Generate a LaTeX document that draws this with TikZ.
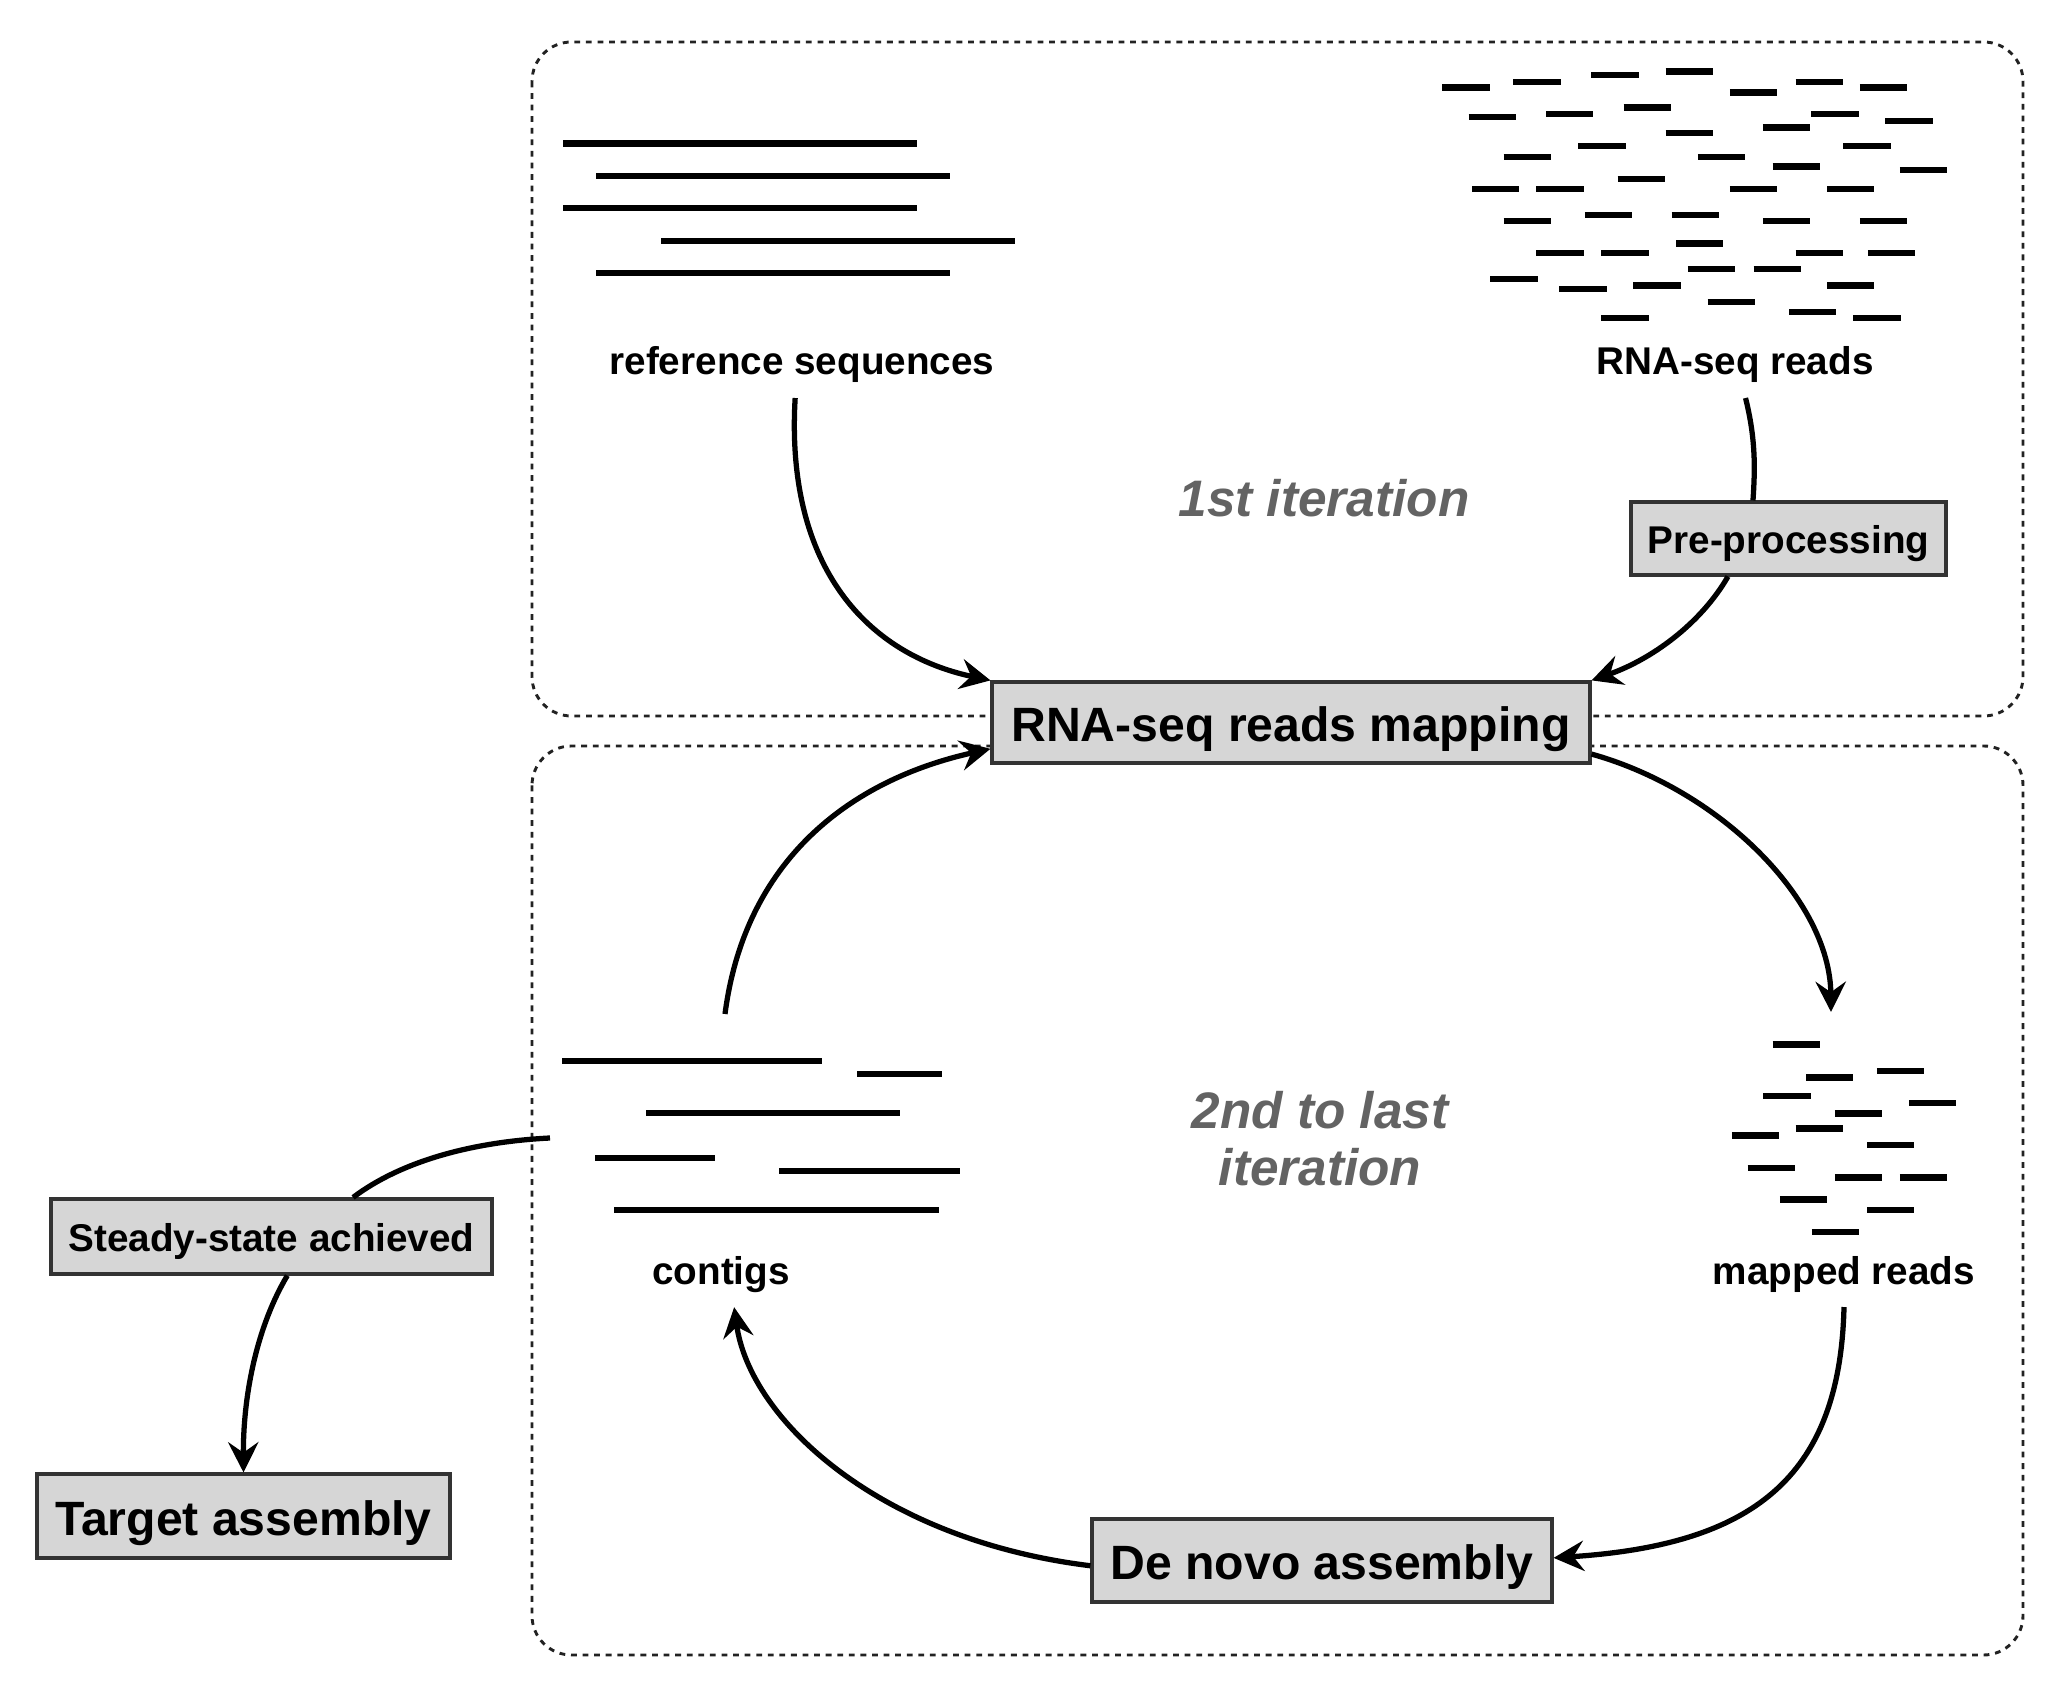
\documentclass[tikz,border=0pt]{standalone}
\usepackage{fontspec}
\setmainfont{Liberation Sans}
\usetikzlibrary{arrows.meta}
\definecolor{boxfill}{HTML}{D6D6D6}
\definecolor{boxline}{HTML}{333333}
\definecolor{itergray}{HTML}{636363}
\definecolor{dotline}{HTML}{222222}
\begin{document}
\begin{tikzpicture}[x=0.38pt,y=-0.38pt,
  frame/.style={draw=dotline, line width=1.1pt, dash pattern=on 2.2pt off 2.2pt, rounded corners=15pt},
  seqline/.style={line width=2.4pt, black},
  conn/.style={line width=2pt, black},
  arr/.style={conn, -{Stealth[length=11.5pt,width=11.5pt,inset=4pt]}},
  lbl/.style={font=\fontsize{14.7}{17}\selectfont\bfseries, anchor=base, inner sep=5.5pt},
  bigbox/.style={draw=boxline, fill=boxfill, line width=1.2pt, inner sep=0pt, font=\fontsize{18.3}{21}\selectfont\bfseries, text height=16.5pt, text depth=1.8pt},
  smallbox/.style={draw=boxline, fill=boxfill, line width=1.2pt, inner sep=0pt, font=\fontsize{14.7}{17}\selectfont\bfseries, text height=13.2pt, text depth=1.5pt},
  iter/.style={text=itergray, font=\fontsize{19.5}{21.7}\selectfont\bfseries\itshape, align=center, inner sep=0pt}
]
\useasboundingbox (0,0) rectangle (2058,1686);
\fill[white] (0,0) rectangle (2058,1686);

% iteration frames
\draw[frame] (532,42) rectangle (2023,716);
\draw[frame] (532,746) rectangle (2023,1655);

% reference sequences
\draw[seqline] (563,143.5) -- (917,143.5);
\draw[seqline] (596,176) -- (950,176);
\draw[seqline] (563,208) -- (917,208);
\draw[seqline] (661,241) -- (1015,241);
\draw[seqline] (596,273) -- (950,273);

% RNA-seq reads (short)
\begin{scope}[shift={(1029,0)}, xscale=0.6563, yscale=0.5376]
\foreach \a/\b in {630/163, 738/152, 857/140, 970/133, 1068/172, 1168/152, 1266/163,
  670/218, 788/212, 906/200, 970/248, 1118/237, 1192/212, 1305/225,
  723/292, 837/272, 1019/292, 1133/310, 1241/272, 1327/316,
  675/351, 773/351, 897/333, 1068/351, 1216/351,
  723/411, 847/400, 979/400, 1118/411, 1266/411,
  773/471, 872/471, 986/453, 1168/471, 1278/471,
  703/519, 808/538, 921/531, 1004/501, 1104/501, 1216/531,
  1034/562, 872/592, 1158/580, 1256/592}
  \draw[seqline] (\a,\b) -- ++(72,0);
\end{scope}

% mapped reads
\begin{scope}[shift={(1029,843)}, xscale=0.6563, yscale=0.5376]
\foreach \a/\b in {1133/375, 1184/436, 1292/424, 1119/470, 1228/503, 1341/484,
  1071/544, 1168/531, 1277/562, 1095/604, 1228/622, 1327/622,
  1144/663, 1277/683, 1193/724}
  \draw[seqline] (\a,\b) -- ++(72,0);
\end{scope}

% contigs
\draw[seqline] (562,1060.7) -- (822,1060.7);
\draw[seqline] (857,1074) -- (942,1074);
\draw[seqline] (646,1113) -- (900,1113);
\draw[seqline] (595,1158) -- (715,1158);
\draw[seqline] (779,1171) -- (960,1171);
\draw[seqline] (614,1210) -- (939,1210);

% labels
\node[lbl] (refseq) at (802,375) {reference sequences};
\node[lbl] (rnareads) at (1735,375) {RNA-seq reads};
\node[lbl] (mapped) at (1844,1284) {mapped reads};
\node[lbl] (contigs) at (721,1284) {contigs};

\node[iter, anchor=base] (it1) at (1324,517) {1st iteration};
\node[iter] (it2) at (1320,1139) {2nd to last\\iteration};

% boxes
\node[bigbox, minimum width=227.2pt, minimum height=30.8pt] (mapping) at (1291,722.5) {RNA-seq reads mapping};
\node[smallbox, minimum width=119.7pt, minimum height=27.7pt] (preproc) at (1788.5,538.5) {Pre-processing};
\node[smallbox, minimum width=167.6pt, minimum height=28.5pt] (steady) at (271.5,1236.5) {Steady-state achieved};
\node[bigbox, minimum width=156.9pt, minimum height=31.9pt] (target) at (243.5,1516) {Target assembly};
\node[bigbox, minimum width=174.8pt, minimum height=31.5pt] (denovo) at (1322,1560.5) {De novo assembly};

% free ends
\coordinate (mappedtop) at (1831,1012);
\coordinate (contigtop) at (725,1014);
\coordinate (contigleft) at (550,1138);

% connectors
\draw[arr] ([xshift=-2.6pt]refseq.south) .. controls (785,570) and (870,655) .. (mapping.north west);
\draw[conn] ([xshift=4pt]rnareads.south) .. controls (1756,440) and (1755,470) .. ([xshift=-13.5pt]preproc.north);
\draw[arr] ([xshift=-23pt]preproc.south) .. controls (1700,625) and (1650,660) .. (mapping.north east);
\draw[arr] ([yshift=4pt]mapping.south east) .. controls (1720,790) and (1830,900) .. (mappedtop);
\draw[arr] (mapped.south) .. controls (1840,1480) and (1750,1545) .. ([yshift=1pt]denovo.east);
\draw[arr] ([yshift=-2pt]denovo.west) .. controls (880,1540) and (750,1420) .. ([xshift=5pt]contigs.south);
\draw[arr] (contigtop) .. controls (745,860) and (850,780) .. ([yshift=6pt]mapping.south west);
\draw[conn] (contigleft) .. controls (470,1142) and (400,1162) .. ([xshift=31pt]steady.north);
\draw[arr] ([xshift=6pt]steady.south) .. controls (255,1330) and (243,1400) .. (target.north);
\end{tikzpicture}
\end{document}
